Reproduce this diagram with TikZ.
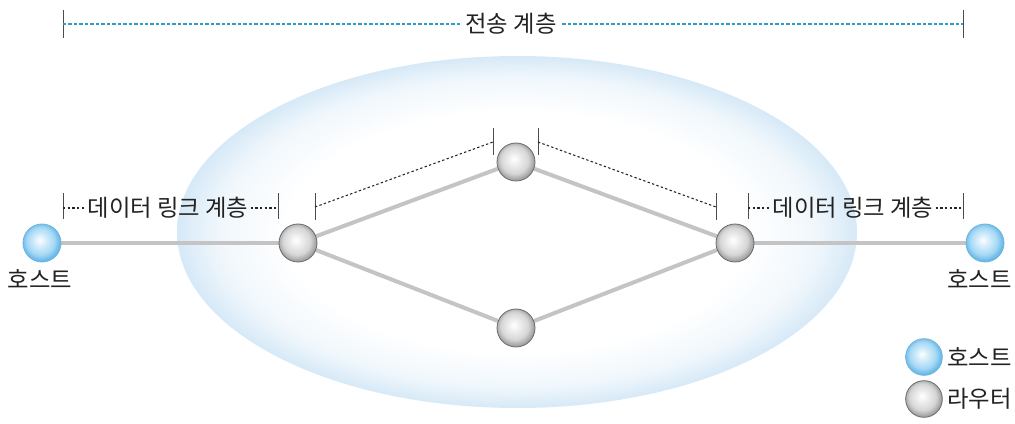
\documentclass[tikz,border=0pt]{standalone}
\usepackage{fontspec}
\setmainfont{Noto Sans CJK KR}
\usetikzlibrary{calc}

% sphere and glow colours
\definecolor{hostA}{HTML}{E2F3FD}
\definecolor{hostB}{HTML}{A6D8F5}
\definecolor{hostC}{HTML}{66B9E8}
\definecolor{hostRim}{HTML}{72B2DA}
\definecolor{routA}{HTML}{F4F4F4}
\definecolor{routB}{HTML}{D6D6D6}
\definecolor{routC}{HTML}{A2A2A2}
\definecolor{routRim}{HTML}{6A6A6A}
\definecolor{glowA}{HTML}{F0F7FC}
\definecolor{glowB}{HTML}{D6E9F7}
\definecolor{linkgray}{HTML}{C4C4C4}
\definecolor{tcpblue}{HTML}{2E9DCB}
\definecolor{txt}{HTML}{222222}

\pgfdeclareradialshading{hostsphere}{\pgfpoint{-3bp}{4bp}}{%
  color(0bp)=(white); color(5bp)=(hostA); color(18bp)=(hostB);
  color(25bp)=(hostC); color(50bp)=(hostC)}
\pgfdeclareradialshading{routersphere}{\pgfpoint{-3bp}{4bp}}{%
  color(0bp)=(white); color(5bp)=(routA); color(18bp)=(routB);
  color(25bp)=(routC); color(50bp)=(routC)}
\pgfdeclareradialshading{netglow}{\pgfpoint{0bp}{0bp}}{%
  color(0bp)=(white); color(17bp)=(white); color(22bp)=(glowA);
  color(25bp)=(glowB); color(50bp)=(glowB)}

\pgfdeclarelayer{background}
\pgfsetlayers{background,main}

\tikzset{
  hostnode/.style={circle, minimum size=28.5pt, inner sep=0pt,
    shading=hostsphere, draw=hostRim, line width=0.6pt},
  routernode/.style={circle, minimum size=28.5pt, inner sep=0pt,
    shading=routersphere, draw=routRim, line width=0.6pt},
  link/.style={draw=linkgray, line width=3pt},
  lbl/.style={font=\fontsize{17.5pt}{20pt}\selectfont, text=txt, inner sep=1.5pt},
  tick/.style={draw=black!70, line width=0.6pt},
  dlspan/.style={draw=black!85, line width=0.8pt, dash pattern=on 1.8pt off 1.7pt},
  tlspan/.style={draw=tcpblue, line width=0.9pt, dash pattern=on 2.6pt off 1.5pt},
}

\begin{document}
\begin{tikzpicture}[x=0.75pt, y=-0.75pt]
  \useasboundingbox (0,0) rectangle (1015,424);

  % network cloud
  \begin{pgfonlayer}{background}
    \path[shading=netglow] (517,232) ellipse [x radius=340, y radius=176];
  \end{pgfonlayer}

  % hosts and routers
  \node[hostnode]   (hL) at (42,243)  {};
  \node[hostnode]   (hR) at (985,243) {};
  \node[routernode] (rL) at (298,243) {};
  \node[routernode] (rT) at (516,162) {};
  \node[routernode] (rB) at (516,328) {};
  \node[routernode] (rR) at (735,243) {};

  \node[lbl] (hLlbl) at (40,279) {호스트};
  \node[lbl, anchor=east, inner sep=0pt] (hRlbl) at (1012,279) {호스트};

  % links, kept beneath the spheres
  \begin{pgfonlayer}{background}
    \path[link] (hL) -- (rL);
    \path[link] (rL) -- (rT);
    \path[link] (rL) -- (rB);
    \path[link] (rT) -- (rR);
    \path[link] (rB) -- (rR);
    \path[link] (rR) -- (hR);
  \end{pgfonlayer}

  % transport layer span
  \coordinate (tA) at (63,24);
  \coordinate (tB) at (963,24);
  \draw[tick] (63,10) -- (63,38);
  \draw[tick] (963,10) -- (963,38);
  \node[lbl, inner sep=4pt] (tl) at (511,24) {전송 계층};
  \draw[tlspan] (tA) -- (tl.west);
  \draw[tlspan] (tl.east) -- (tB);

  % left data link span
  \coordinate (dA) at (63,208);
  \coordinate (dB) at (278,208);
  \draw[tick] (63,193) -- (63,219);
  \draw[tick] (278,193) -- (278,219);
  \node[lbl] (dl1) at (168,208) {데이터 링크 계층};
  \draw[dlspan] (dA) -- (dl1.west);
  \draw[dlspan] (dl1.east) -- (dB);

  % right data link span
  \coordinate (dC) at (748,208);
  \coordinate (dD) at (963,208);
  \draw[tick] (748,193) -- (748,219);
  \draw[tick] (963,193) -- (963,219);
  \node[lbl] (dl2) at (853,208) {데이터 링크 계층};
  \draw[dlspan] (dC) -- (dl2.west);
  \draw[dlspan] (dl2.east) -- (dD);

  % router-to-router spans
  \coordinate (sA) at (315,207);
  \coordinate (sB) at (493,142);
  \coordinate (sC) at (538,142);
  \coordinate (sD) at (716,207);
  \draw[tick] (315,193) -- (315,220);
  \draw[tick] (493,128) -- (493,155);
  \draw[tick] (538,128) -- (538,155);
  \draw[tick] (716,193) -- (716,220);
  \draw[dlspan] (sA) -- (sB);
  \draw[dlspan] (sC) -- (sD);

  % legend
  \node[hostnode, minimum size=27.5pt]   (lgH) at (924,357) {};
  \node[routernode, minimum size=27.5pt] (lgR) at (924,399) {};
  \node[lbl, anchor=east, inner sep=0pt] (lgHt) at (1012,357) {호스트};
  \node[lbl, anchor=east, inner sep=0pt] (lgRt) at (1012,399) {라우터};
\end{tikzpicture}
\end{document}
